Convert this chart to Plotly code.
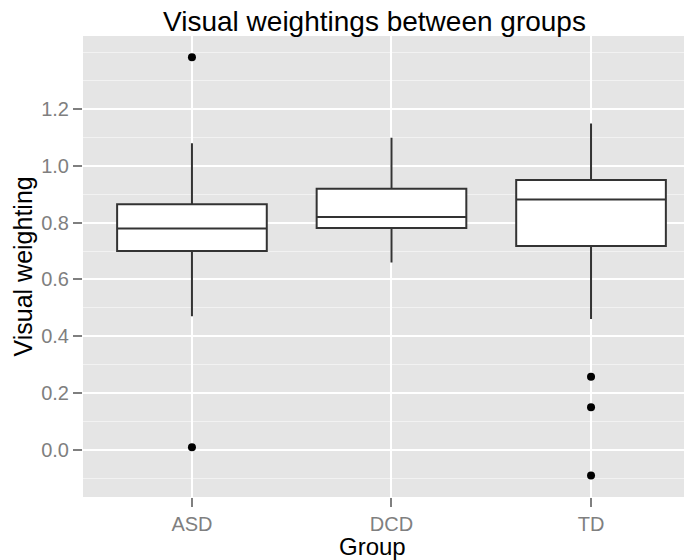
import plotly.graph_objects as go

# ---- data ----
groups = ["ASD", "DCD", "TD"]
q1 = [0.700, 0.781, 0.718]
median = [0.779, 0.820, 0.881]
q3 = [0.865, 0.919, 0.950]
lower_whisker = [0.471, 0.660, 0.461]
upper_whisker = [1.079, 1.099, 1.149]

outlier_groups = ["ASD", "ASD", "TD", "TD", "TD"]
outlier_values = [1.382, 0.010, 0.258, 0.150, -0.090]

y_tick_vals = [0.0, 0.2, 0.4, 0.6, 0.8, 1.0, 1.2]
y_tick_text = ["0.0", "0.2", "0.4", "0.6", "0.8", "1.0", "1.2"]
y_minor_vals = [-0.1, 0.1, 0.3, 0.5, 0.7, 0.9, 1.1, 1.3, 1.4]

FONT = "Liberation Sans, Arial, Helvetica, sans-serif"
PAGE_OFFSET = 8  # default body margin of the html page

W, H = 692 - PAGE_OFFSET, 560 - PAGE_OFFSET

fig = go.Figure()
fig.add_trace(go.Box(
    x=groups, q1=q1, median=median, q3=q3,
    lowerfence=lower_whisker, upperfence=upper_whisker,
    fillcolor="white", line=dict(color="#333333", width=2),
    whiskerwidth=0, width=0.75, boxpoints=False, showlegend=False,
))
fig.add_trace(go.Scatter(
    x=outlier_groups, y=outlier_values, mode="markers",
    marker=dict(color="black", size=8), showlegend=False,
))

fig.update_layout(
    width=W, height=H,
    margin=dict(l=83 - PAGE_OFFSET, r=0, t=36 - PAGE_OFFSET, b=63, pad=0),
    paper_bgcolor="white", plot_bgcolor="#E5E5E5",
    font=dict(family=FONT),
    title=dict(text="Visual weightings between groups",
               font=dict(size=28, color="black", family=FONT),
               x=(374.5 - PAGE_OFFSET) / W, xanchor="center", xref="container",
               y=1 - (21 - PAGE_OFFSET) / H, yanchor="middle", yref="container"),
)
fig.update_xaxes(
    type="category", categoryorder="array", categoryarray=groups,
    range=[-0.546, 2.506],
    showgrid=True, gridcolor="white", gridwidth=2,
    ticks="outside", ticklen=9, tickwidth=1.5, tickcolor="#7F7F7F",
    tickfont=dict(size=20, color="#7F7F7F"),
    showline=False, zeroline=False,
)
fig.update_yaxes(
    range=[-0.1654, 1.4567],
    tickmode="array", tickvals=y_tick_vals, ticktext=y_tick_text,
    showgrid=True, gridcolor="white", gridwidth=2,
    ticks="outside", ticklen=9, tickwidth=1.5, tickcolor="#7F7F7F",
    tickfont=dict(size=20, color="#7F7F7F"),
    minor=dict(tickvals=y_minor_vals, showgrid=True, gridcolor="#F2F2F2",
               gridwidth=1, ticks=""),
    showline=False, zeroline=False,
)
fig.add_annotation(text="Group", xref="paper", yref="paper",
                   x=(372 - 83) / 609, y=(497 - 546) / 461,
                   showarrow=False, font=dict(size=24, color="black"),
                   xanchor="center", yanchor="middle")
fig.add_annotation(text="Visual weighting", xref="paper", yref="paper",
                   x=(22 - 83) / 609, y=0.5, textangle=-90,
                   showarrow=False, font=dict(size=25, color="black"),
                   xanchor="center", yanchor="middle")

fig.write_html("out.html")
